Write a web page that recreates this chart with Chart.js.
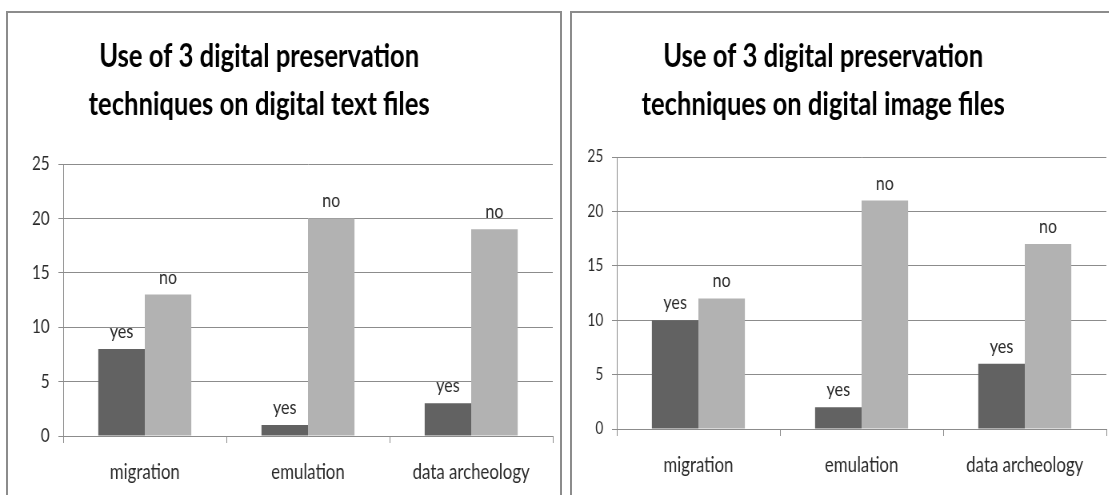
<!DOCTYPE html>
<html>
<head>
<meta charset="utf-8">
<script src="https://cdn.jsdelivr.net/npm/chart.js@4"></script>
<style>
  html, body { margin: 0; padding: 0; background: #fff; overflow: hidden; }
  body { width: 1109px; height: 495px; position: relative; }
  .panel {
    position: absolute;
    top: 11px;
    width: 552px;
    height: 500px;
    border: 2px solid #8c8c8c;
    background: #fff;
    overflow: hidden;
  }
  /* the source picture is squeezed sideways, so the charts are drawn wide and narrowed */
  .panel canvas { display: block; transform: scaleX(0.8); transform-origin: 0 0; }
</style>
</head>
<body>
<div class="panel" style="left: 6px;"><canvas id="textChart" width="690" height="490"></canvas></div>
<div class="panel" style="left: 570px;"><canvas id="imageChart" width="690" height="490"></canvas></div>

<script>
const categories = ["migration", "emulation", "data archeology"]
const seriesNames = ["yes", "no"]

// digital text files
const textYes = [8, 1, 3]
const textNo = [13, 20, 19]

// digital image files
const imageYes = [10, 2, 6]
const imageNo = [12, 21, 17]

const yTicks = [0, 5, 10, 15, 20, 25]

const textTitle = ["Use of 3 digital preservation", "techniques on digital text files"]
const imageTitle = ["Use of 3 digital preservation", "techniques on digital image files"]

const fontFamily = "Lato, 'Open Sans', 'Liberation Sans', sans-serif"
Chart.defaults.font.family = fontFamily
Chart.defaults.color = "#333"
Chart.defaults.animation = false

// "yes" / "no" above every bar
const barNames = {
  id: "barNames",
  afterDatasetsDraw(chart) {
    const ctx = chart.ctx
    ctx.save()
    ctx.font = "20px " + fontFamily
    ctx.fillStyle = "#2a2a2a"
    ctx.textAlign = "center"
    ctx.textBaseline = "alphabetic"
    chart.data.datasets.forEach((ds, i) => {
      chart.getDatasetMeta(i).data.forEach((bar) => {
        ctx.fillText(ds.label, bar.x, bar.y - 11)
      })
    })
    ctx.restore()
  },
}

// two-line title, centred a little left of the panel middle like the original
const panelTitle = {
  id: "panelTitle",
  afterDraw(chart, args, opts) {
    const ctx = chart.ctx
    ctx.save()
    ctx.font = "bold 32px " + fontFamily
    ctx.fillStyle = "#000"
    ctx.textAlign = "center"
    ctx.textBaseline = "alphabetic"
    opts.lines.forEach((line, i) => {
      ctx.fillText(line, opts.x, opts.y + i * opts.gap)
    })
    ctx.restore()
  },
}

function makeChart(id, title, yes, no, box) {
  const ctx = document.getElementById(id).getContext("2d")
  return new Chart(ctx, {
    type: "bar",
    data: {
      labels: categories,
      datasets: [
        { label: seriesNames[0], data: yes, backgroundColor: "#626262" },
        { label: seriesNames[1], data: no, backgroundColor: "#b2b2b2" },
      ],
    },
    options: {
      responsive: false,
      devicePixelRatio: 1,
      layout: { padding: { left: 0, right: box.right, top: box.top, bottom: 0 } },
      datasets: {
        bar: { categoryPercentage: 0.57, barPercentage: 1.0, borderWidth: 0 },
      },
      plugins: {
        legend: { display: false },
        tooltip: { enabled: false },
        title: { display: false },
        panelTitle: { lines: title, x: 314, y: 54, gap: 48 },
      },
      scales: {
        x: {
          grid: { drawOnChartArea: false, color: "#8c8c8c", tickLength: 7, offset: true },
          border: { color: "#8c8c8c" },
          ticks: { font: { size: 21 }, padding: 17, color: "#2a2a2a" },
          afterFit: (scale) => { scale.height = box.xHeight },
        },
        y: {
          min: 0,
          max: 25,
          afterBuildTicks: (scale) => { scale.ticks = yTicks.map((v) => ({ value: v })) },
          grid: { color: "#8c8c8c", tickLength: 6 },
          border: { color: "#8c8c8c" },
          ticks: { font: { size: box.ySize }, padding: 11, color: "#2a2a2a" },
          afterFit: (scale) => { scale.width = box.yWidth },
        },
      },
    },
    plugins: [barNames, panelTitle],
  })
}

makeChart("textChart", textTitle, textYes, textNo,
  { right: 9, top: 151, xHeight: 67, yWidth: 69, ySize: 19 })
makeChart("imageChart", imageTitle, imageYes, imageNo,
  { right: 22, top: 144, xHeight: 74, yWidth: 56, ySize: 17 })
</script>
</body>
</html>
